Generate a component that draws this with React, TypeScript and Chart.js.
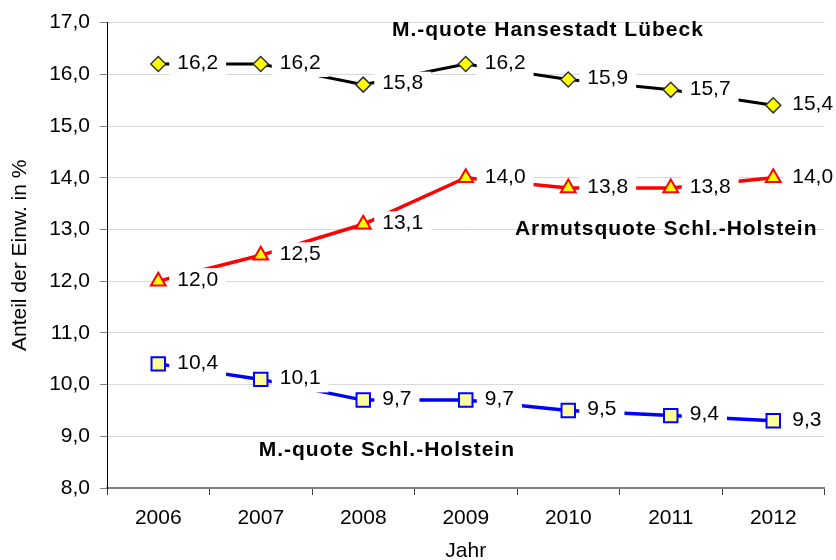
import React, { useEffect, useRef } from 'react';
import { Chart, registerables } from 'chart.js';

Chart.register(...registerables);

// ---- data ----
const years = ['2006', '2007', '2008', '2009', '2010', '2011', '2012'];
const luebeck = [16.2, 16.2, 15.8, 16.2, 15.9, 15.7, 15.4];
const armutSH = [12.0, 12.5, 13.1, 14.0, 13.8, 13.8, 14.0];
const mquoteSH = [10.4, 10.1, 9.7, 9.7, 9.5, 9.4, 9.3];
const seriesNames = ['M.-quote Hansestadt Lübeck', 'Armutsquote Schl.-Holstein', 'M.-quote Schl.-Holstein'];
// anchors for the in-chart series names (category index, value)
const nameAnchorIndex = [2.28, 3.48, 0.98];
const nameAnchorValue = [16.85, 13.0, 8.74];
const yMin = 8;
const yMax = 17;
const yStep = 1;
const yTitle = 'Anteil der Einw. in %';
const xTitle = 'Jahr';

const FONT = '"Liberation Sans", Arial, sans-serif';
const fmt = (v: number) => v.toFixed(1).replace('.', ',');

const labelPlugin = {
  id: 'valueLabels',
  afterDatasetsDraw(chart: any) {
    const ctx = chart.ctx as CanvasRenderingContext2D;
    ctx.save();
    ctx.font = `21px ${FONT}`;
    ctx.textBaseline = 'middle';
    ctx.textAlign = 'left';
    chart.data.datasets.forEach((ds: any, i: number) => {
      const meta = chart.getDatasetMeta(i);
      meta.data.forEach((pt: any, j: number) => {
        const txt = fmt(ds.data[j]);
        const w = ctx.measureText(txt).width;
        ctx.fillStyle = '#ffffff';
        ctx.fillRect(pt.x + 11, pt.y - 13, w + 16, 26);
        ctx.fillStyle = '#000000';
        ctx.fillText(txt, pt.x + 19, pt.y - 1);
      });
    });
    ctx.restore();

    const xs = chart.scales.x;
    const ys = chart.scales.y;
    ctx.save();
    ctx.font = `bold 21px ${FONT}`;
    (ctx as any).letterSpacing = '1px';
    ctx.textBaseline = 'middle';
    ctx.textAlign = 'left';
    ctx.fillStyle = '#000000';
    seriesNames.forEach((name, i) => {
      ctx.fillText(name, xs.getPixelForValue(nameAnchorIndex[i]), ys.getPixelForValue(nameAnchorValue[i]));
    });
    ctx.restore();
  },
};

export default function App() {
  const ref = useRef<HTMLCanvasElement | null>(null);

  useEffect(() => {
    if (!ref.current) return;
    Chart.defaults.font.family = FONT;
    const chart = new Chart(ref.current, {
      type: 'line',
      data: {
        labels: years,
        datasets: [
          {
            label: seriesNames[0],
            data: luebeck,
            borderColor: '#000000',
            borderWidth: 3,
            pointStyle: 'rectRot',
            pointRadius: 7.5,
            pointBackgroundColor: '#FFFF00',
            pointBorderColor: '#333333',
            pointBorderWidth: 1.5,
            tension: 0,
          },
          {
            label: seriesNames[1],
            data: armutSH,
            borderColor: '#FF0000',
            borderWidth: 3.5,
            pointStyle: 'triangle',
            pointRadius: 8.5,
            pointBackgroundColor: '#FFFF00',
            pointBorderColor: '#FF0000',
            pointBorderWidth: 2,
            tension: 0,
          },
          {
            label: seriesNames[2],
            data: mquoteSH,
            borderColor: '#0000FF',
            borderWidth: 3.5,
            pointStyle: 'rect',
            pointRadius: 9.5,
            pointBackgroundColor: '#FFFF99',
            pointBorderColor: '#0000FF',
            pointBorderWidth: 2,
            tension: 0,
          },
        ],
      },
      options: {
        responsive: false,
        animation: false,
        events: [],
        layout: { padding: { top: 22, right: 10, left: 0, bottom: 0 } },
        plugins: {
          legend: { display: false },
          tooltip: { enabled: false },
        },
        scales: {
          x: {
            offset: true,
            grid: { display: true, drawOnChartArea: false, offset: true, tickLength: 7, tickColor: '#404040' },
            border: { color: '#808080', width: 2 },
            ticks: { font: { size: 21 }, color: '#000', padding: 11, maxRotation: 0 },
            title: { display: true, text: xTitle, font: { size: 21, lineHeight: 1 }, color: '#000', padding: { top: 0, bottom: -2 } },
            afterFit: (s: any) => { s.height = 72; },
          },
          y: {
            min: yMin,
            max: yMax,
            ticks: {
              stepSize: yStep,
              font: { size: 21 },
              color: '#000',
              padding: 10,
              callback: (v: any) => fmt(Number(v)),
            },
            grid: { color: '#D9D9D9', tickColor: '#808080', tickLength: 7, lineWidth: 1 },
            border: { color: '#000000', width: 1 },
            title: { display: true, text: yTitle, font: { size: 21 }, color: '#000', padding: { top: 8, bottom: 0 } },
            afterFit: (s: any) => { s.width = 107; },
          },
        },
      },
      plugins: [labelPlugin],
    } as any);
    return () => chart.destroy();
  }, []);

  return (
    <div style={{ position: 'absolute', left: 0, top: 0, width: 836, height: 560, background: '#fff' }}>
      <canvas ref={ref} width={836} height={560} style={{ width: 836, height: 560, display: 'block' }} />
    </div>
  );
}
